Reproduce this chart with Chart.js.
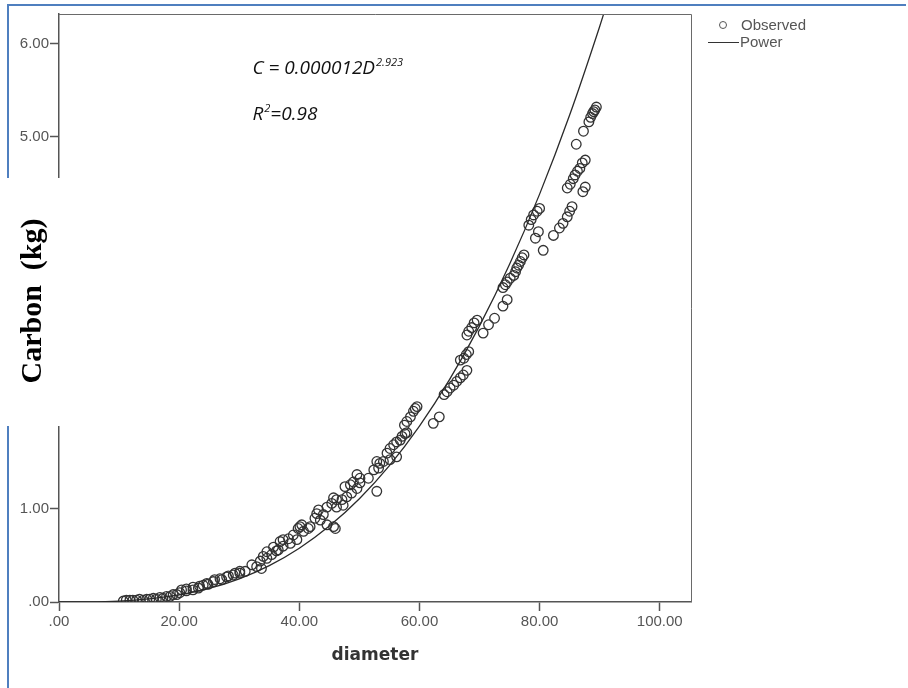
<!DOCTYPE html>
<html lang="en">

<head>
    <meta charset="UTF-8">
    <title>Carbon vs diameter</title>
    <style>
        body { margin: 0; background: #fff; }
        canvas { display: block; }
    </style>
</head>

<body>
    <canvas id="myChart" width="908" height="688"></canvas>
    <script src="https://cdn.jsdelivr.net/npm/chart.js"></script>
    <script>
        // observed trees (diameter, carbon kg)
        var diameter = [10.7, 11.2, 11.8, 12.3, 12.9, 13.4, 14.0, 14.6, 15.1, 15.7, 16.2, 16.8, 17.3, 17.9, 18.5, 19.0, 19.6, 20.1, 20.4, 21.2,
            21.2, 22.3, 22.3, 23.2, 23.4, 24.0, 24.6, 24.8, 25.7, 25.9, 26.8, 27.1, 27.9, 28.2, 29.0, 29.3, 30.1, 30.1, 31.0, 32.1,
            32.9, 33.5, 33.7, 34.0, 34.6, 34.6, 35.4, 35.7, 36.2, 36.5, 36.8, 37.3, 37.3, 38.2, 38.5, 39.0, 39.6, 39.8, 40.1, 40.4,
            40.7, 41.5, 41.8, 42.6, 42.9, 43.2, 43.5, 44.0, 44.6, 44.6, 45.4, 45.7, 45.7, 46.0, 46.2, 46.2, 47.1, 47.3, 47.6, 47.9,
            48.5, 48.7, 49.0, 49.6, 49.6, 50.1, 50.1, 51.5, 52.4, 52.9, 52.9, 53.2, 53.4, 54.0, 54.6, 55.1, 55.1, 55.7, 56.2, 56.2,
            56.8, 57.1, 57.5, 57.6, 57.9, 57.9, 58.5, 59.0, 59.3, 59.6, 62.3, 63.3, 64.1, 64.6, 65.1, 65.7, 66.2, 66.8, 67.3, 67.9,
            66.8, 67.4, 67.8, 68.2, 67.9, 68.2, 68.7, 69.1, 69.6, 70.6, 71.5, 72.5, 73.9, 74.6, 73.9, 74.3, 74.6, 75.1, 75.7, 76.0,
            76.2, 76.5, 76.8, 77.1, 77.4, 78.2, 78.6, 79.0, 79.3, 79.6, 79.8, 80.0, 80.6, 82.3, 83.3, 83.9, 84.6, 84.6, 85.0, 85.1,
            85.4, 85.6, 85.9, 86.1, 86.3, 86.7, 87.1, 87.2, 87.3, 87.6, 87.6, 88.2, 88.5, 88.8, 89.0, 89.2, 89.45];
        var carbon = [0.01, 0.02, 0.02, 0.02, 0.02, 0.03, 0.02, 0.03, 0.03, 0.04, 0.03, 0.05, 0.04, 0.06, 0.06, 0.08, 0.08, 0.10, 0.13, 0.14,
            0.12, 0.13, 0.16, 0.15, 0.17, 0.18, 0.20, 0.19, 0.22, 0.24, 0.25, 0.24, 0.27, 0.28, 0.29, 0.31, 0.31, 0.33, 0.33, 0.40,
            0.38, 0.44, 0.36, 0.49, 0.47, 0.54, 0.51, 0.59, 0.55, 0.56, 0.65, 0.60, 0.67, 0.68, 0.63, 0.72, 0.67, 0.79, 0.81, 0.83,
            0.76, 0.79, 0.81, 0.90, 0.95, 0.99, 0.88, 0.94, 1.02, 0.83, 1.06, 1.12, 0.81, 0.79, 1.10, 1.02, 1.10, 1.04, 1.24, 1.13,
            1.26, 1.17, 1.29, 1.37, 1.22, 1.33, 1.28, 1.33, 1.42, 1.51, 1.19, 1.44, 1.49, 1.51, 1.60, 1.65, 1.53, 1.69, 1.72, 1.56,
            1.74, 1.78, 1.90, 1.81, 1.94, 1.82, 1.99, 2.05, 2.08, 2.10, 1.92, 1.99, 2.23, 2.26, 2.30, 2.33, 2.37, 2.41, 2.44, 2.49,
            2.60, 2.62, 2.66, 2.69, 2.87, 2.91, 2.95, 3.00, 3.03, 2.89, 2.98, 3.05, 3.18, 3.25, 3.38, 3.41, 3.44, 3.48, 3.51, 3.55,
            3.59, 3.62, 3.66, 3.70, 3.73, 4.05, 4.11, 4.16, 3.91, 4.20, 3.98, 4.23, 3.78, 3.94, 4.02, 4.07, 4.14, 4.45, 4.20, 4.49,
            4.25, 4.55, 4.59, 4.92, 4.63, 4.66, 4.72, 4.41, 5.06, 4.46, 4.75, 5.16, 5.21, 5.25, 5.27, 5.29, 5.32];

        // power fit line
        var fitD = [0, 5, 10, 15, 20, 25, 30, 35, 40, 45, 50, 55, 60, 65, 70, 75, 80, 85, 90, 91];
        var fitC = [0, 0.0013, 0.010, 0.033, 0.076, 0.146, 0.249, 0.391, 0.578, 0.816, 1.110, 1.466, 1.891, 2.390, 2.968, 3.630, 4.384, 5.234, 6.186, 6.39];

        var xTicks = [0, 20, 40, 60, 80, 100];
        var yTicks = [0, 1, 2, 3, 4, 5, 6];

        var observedPts = diameter.map(function (d, i) { return { x: d, y: carbon[i] }; });
        var fitPts = fitD.map(function (d, i) { return { x: d, y: fitC[i] }; });

        function fmt(v) {
            return v === 0 ? '.00' : v.toFixed(2);
        }

        // frame, masked y title, legend and equation
        var decor = {
            id: 'decor',
            afterDraw: function (chart) {
                var ctx = chart.ctx, a = chart.chartArea;
                var xs = chart.scales.x, ys = chart.scales.y;
                ctx.save();

                // plot box top/right
                ctx.strokeStyle = '#6a6a6a';
                ctx.lineWidth = 1;
                ctx.beginPath();
                ctx.moveTo(a.left, a.top + 0.5);
                ctx.lineTo(a.right + 0.5, a.top + 0.5);
                ctx.lineTo(a.right + 0.5, a.bottom);
                ctx.stroke();

                // blue page frame
                ctx.strokeStyle = '#4f7fbf';
                ctx.lineWidth = 2;
                ctx.beginPath();
                ctx.moveTo(906, 5);
                ctx.lineTo(8, 5);
                ctx.lineTo(8, 688);
                ctx.stroke();

                // white box pasted over the axis
                ctx.fillStyle = '#fff';
                ctx.fillRect(3, 178, 59, 248);

                // y title
                ctx.fillStyle = '#000';
                ctx.font = 'bold 30px "Liberation Serif"';
                ctx.textAlign = 'center';
                ctx.textBaseline = 'middle';
                ctx.translate(33, 301);
                ctx.rotate(-Math.PI / 2);
                ctx.fillText('Carbon  (kg)', 0, 0);
                ctx.setTransform(1, 0, 0, 1, 0, 0);

                // x title
                ctx.fillStyle = '#333';
                ctx.font = 'bold 17px "DejaVu Sans"';
                ctx.fillText('diameter', (a.left + a.right) / 2, 656);

                // legend
                ctx.strokeStyle = '#555';
                ctx.lineWidth = 1;
                ctx.beginPath();
                ctx.arc(723, 25, 3.5, 0, Math.PI * 2);
                ctx.stroke();
                ctx.strokeStyle = '#333';
                ctx.beginPath();
                ctx.moveTo(708, 42.5);
                ctx.lineTo(739, 42.5);
                ctx.stroke();
                ctx.fillStyle = '#555';
                ctx.font = '15px "Liberation Sans"';
                ctx.textAlign = 'left';
                ctx.fillText('Observed', 741, 26);
                ctx.fillText('Power', 740, 43);

                // equation
                var ex = xs.getPixelForValue(32.2);
                var ey1 = ys.getPixelForValue(5.68);
                var ey2 = ys.getPixelForValue(5.18);
                ctx.fillStyle = '#111';
                ctx.textBaseline = 'alphabetic';
                ctx.font = 'italic 19px "Open Sans"';
                var s1 = 'C = 0.000012D';
                ctx.fillText(s1, ex, ey1);
                var w1 = ctx.measureText(s1).width;
                ctx.fillText('R', ex, ey2);
                var wr = ctx.measureText('R').width;
                ctx.font = 'italic 11px "Open Sans"';
                ctx.fillText('2.923', ex + w1 + 1, ey1 - 8);
                ctx.fillText('2', ex + wr + 1, ey2 - 8);
                var w2 = ctx.measureText('2').width;
                ctx.font = 'italic 19px "Open Sans"';
                ctx.fillText('=0.98', ex + wr + w2 + 1, ey2);

                ctx.restore();
            }
        };

        var ctx = document.getElementById('myChart');
        var myChart = new Chart(ctx, {
            type: 'scatter',
            data: {
                datasets: [{
                    label: 'Observed',
                    data: observedPts,
                    pointStyle: 'circle',
                    pointRadius: 4.8,
                    pointBorderWidth: 1.3,
                    borderColor: '#333',
                    backgroundColor: 'rgba(0,0,0,0)',
                    order: 2
                }, {
                    label: 'Power',
                    data: fitPts,
                    showLine: true,
                    pointRadius: 0,
                    borderColor: '#2a2a2a',
                    borderWidth: 1.3,
                    cubicInterpolationMode: 'monotone',
                    order: 1
                }]
            },
            options: {
                responsive: false,
                animation: false,
                layout: { padding: { top: 14, right: 217, left: 0, bottom: 0 } },
                plugins: {
                    legend: { display: false },
                    tooltip: { enabled: false }
                },
                scales: {
                    x: {
                        type: 'linear',
                        min: 0,
                        max: 105.2,
                        afterFit: function (scale) { scale.height = 86; },
                        afterBuildTicks: function (scale) {
                            scale.ticks = xTicks.map(function (v) { return { value: v }; });
                        },
                        ticks: {
                            callback: fmt,
                            color: '#555',
                            padding: 2,
                            maxRotation: 0,
                            font: { family: 'Liberation Sans', size: 15 }
                        },
                        grid: { drawOnChartArea: false, tickLength: 9, color: '#555', tickWidth: 1.5 },
                        border: { color: '#555', width: 1.5 }
                    },
                    y: {
                        type: 'linear',
                        min: 0,
                        max: 6.32,
                        afterFit: function (scale) { scale.width = 59; },
                        afterBuildTicks: function (scale) {
                            scale.ticks = yTicks.map(function (v) { return { value: v }; });
                        },
                        ticks: {
                            callback: fmt,
                            color: '#555',
                            padding: 1,
                            font: { family: 'Liberation Sans', size: 15 }
                        },
                        grid: { drawOnChartArea: false, tickLength: 9, color: '#555', tickWidth: 1.5 },
                        border: { color: '#555', width: 1.5 }
                    }
                }
            },
            plugins: [decor]
        });
    </script>

</body>

</html>
